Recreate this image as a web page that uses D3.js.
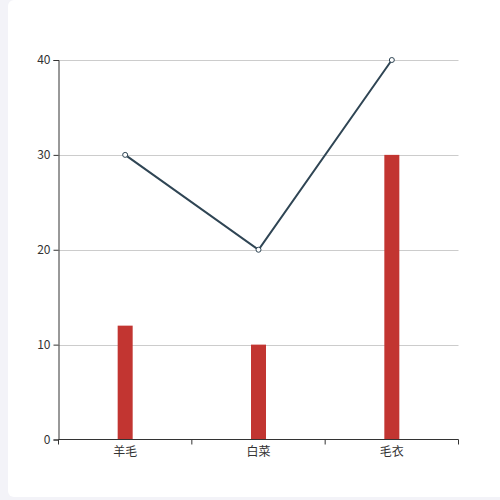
<!DOCTYPE html>
<html>
<head>
<meta charset="utf-8">
<script src="https://cdn.jsdelivr.net/npm/d3@7"></script>
<style>
  html, body { margin: 0; padding: 0; background: #f3f3f8; overflow: hidden; }
  #panel { position: absolute; left: 8px; top: 0; width: 510px; height: 497px; background: #fff; border-radius: 6px; }
  svg { position: absolute; left: 0; top: 0; }
  text { font-family: "Noto Sans CJK SC", "DejaVu Sans", sans-serif; font-size: 12px; fill: #333; }
</style>
</head>
<body>
<div id="panel"></div>
<svg id="chart" width="500" height="500"></svg>
<script>
// categories and series
const categories = ["羊毛", "白菜", "毛衣"]
const barValues = [12, 10, 30]
const lineValues = [30, 20, 40]
const yTicks = [0, 10, 20, 30, 40]

const plotLeft = 58.5, plotRight = 458.5, plotTop = 60, plotBottom = 439.5
const svg = d3.select('#chart')

const x = d3.scaleBand().domain(categories).range([plotLeft, plotRight])
const y = d3.scaleLinear().domain([0, 40]).range([plotBottom, plotTop])

// grid lines
svg.append('g')
    .selectAll('line')
    .data(yTicks.slice(1))
    .join('line')
    .attr('x1', plotLeft).attr('x2', plotRight)
    .attr('y1', d => Math.round(y(d)) + 0.5).attr('y2', d => Math.round(y(d)) + 0.5)
    .attr('stroke', '#ccc')

// bars
const barWidth = 15
svg.append('g')
    .selectAll('rect')
    .data(barValues)
    .join('rect')
    .attr('x', (d, i) => x(categories[i]) + x.bandwidth() / 2 - barWidth / 2)
    .attr('y', d => y(d))
    .attr('width', barWidth)
    .attr('height', d => plotBottom - y(d))
    .attr('fill', '#c23531')

// y axis
const yAxis = svg.append('g')
    .attr('transform', `translate(${plotLeft},0)`)
    .call(d3.axisLeft(y).tickValues(yTicks).tickSize(5).tickPadding(3))
yAxis.selectAll('path, line').attr('stroke', '#333')
yAxis.selectAll('text').style('font-size', '12px').attr('fill', '#333')

// x axis with ticks at band boundaries
const xAxis = svg.append('g')
    .attr('transform', `translate(0,${plotBottom})`)
    .call(d3.axisBottom(x).tickSize(0).tickPadding(8))
xAxis.select('.domain').attr('stroke', '#333').attr('d', `M${plotLeft},0H${plotRight}`)
xAxis.selectAll('text').style('font-size', '12px').attr('fill', '#333')
xAxis.selectAll('.bound')
    .data([0, 1, 2, 3])
    .join('line')
    .attr('class', 'bound')
    .attr('x1', i => plotLeft + i * x.bandwidth()).attr('x2', i => plotLeft + i * x.bandwidth())
    .attr('y1', 0).attr('y2', 5)
    .attr('stroke', '#333')

// line series
const line = d3.line()
    .x((d, i) => x(categories[i]) + x.bandwidth() / 2)
    .y(d => y(d))
svg.append('path')
    .datum(lineValues)
    .attr('d', line)
    .attr('fill', 'none')
    .attr('stroke', '#2f4554')
    .attr('stroke-width', 2)

svg.append('g')
    .selectAll('circle')
    .data(lineValues)
    .join('circle')
    .attr('cx', (d, i) => x(categories[i]) + x.bandwidth() / 2)
    .attr('cy', d => y(d))
    .attr('r', 2.5)
    .attr('fill', '#fff')
    .attr('stroke', '#2f4554')
    .attr('stroke-width', 1)
</script>
</body>
</html>
